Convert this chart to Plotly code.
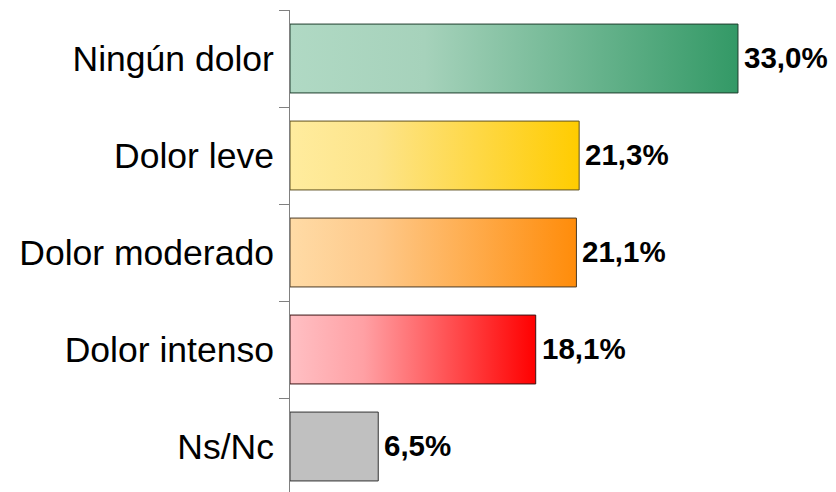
import plotly.graph_objects as go

# Categories and percentages
categories = ["Ningún dolor", "Dolor leve", "Dolor moderado", "Dolor intenso", "Ns/Nc"]
values = [33.0, 21.3, 21.1, 18.1, 6.5]

# Gradient colours (light at the axis, saturated at the bar end) and outlines
light_colors = ["#b0d9c4", "#ffec9e", "#ffdba6", "#ffc0c4", "#c0c0c0"]
mid_colors = ["#a6d2bb", "#fde48a", "#fec98a", "#ffa0a4", "#c0c0c0"]
dark_colors = ["#339966", "#ffcc00", "#ff8c0a", "#ff0000", "#c0c0c0"]
edge_colors = ["#1e3d2c", "#5e5020", "#4a3a26", "#3a1414", "#333333"]

half = 0.355
fig = go.Figure()

for i, (cat, v) in enumerate(zip(categories, values)):
    fig.add_trace(go.Scatter(
        x=[0, v, v, 0, 0],
        y=[i - half, i - half, i + half, i + half, i - half],
        mode="lines",
        fill="toself",
        fillgradient=dict(
            type="horizontal",
            colorscale=[[0, light_colors[i]], [0.3, mid_colors[i]], [1, dark_colors[i]]],
        ),
        line=dict(color=edge_colors[i], width=1),
        hoverinfo="skip",
        showlegend=False,
    ))
    fig.add_annotation(
        x=v, y=i, xref="x", yref="y",
        text=f"<b>{v:.1f}%</b>".replace(".", ","),
        showarrow=False, xanchor="left", yanchor="middle", xshift=4, yshift=1,
        font=dict(family="Liberation Sans, Arial, sans-serif", size=29.5, color="black"),
    )

fig.update_layout(
    width=836, height=492,
    margin=dict(l=290, r=3, t=10, b=0),
    paper_bgcolor="white", plot_bgcolor="white",
    font=dict(family="Liberation Sans, Arial, sans-serif", color="black"),
    showlegend=False,
)

fig.update_xaxes(
    range=[0, 40], visible=False, showgrid=False, zeroline=False,
)

fig.update_yaxes(
    range=[4.469, -0.5],
    tickmode="array", tickvals=list(range(len(categories))), ticktext=categories,
    ticks="", ticklabelstandoff=8,
    tickfont=dict(size=35.5, color="black"),
    showgrid=False, zeroline=False,
    showline=True, linecolor="#808080", linewidth=1,
    minor=dict(tickmode="array", tickvals=[k - 0.5 for k in range(len(categories) + 1)],
               ticks="outside", ticklen=10, tickcolor="#808080", tickwidth=1, showgrid=False),
)

fig.write_html("out.html")
